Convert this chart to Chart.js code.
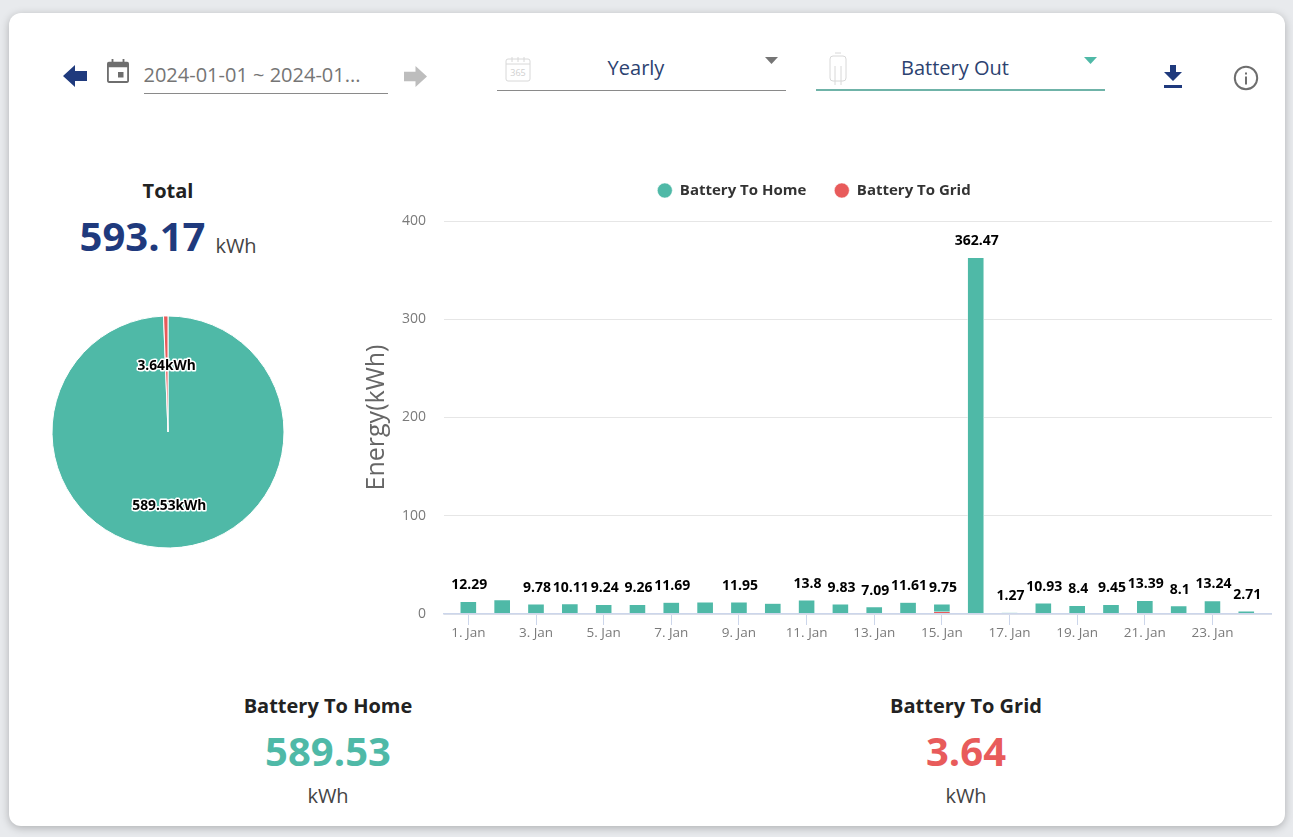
<!DOCTYPE html>
<html>
<head>
<meta charset="utf-8">
<script src="https://cdn.jsdelivr.net/npm/chart.js@4"></script>
<style>
  html, body { margin: 0; height: 100%; overflow: hidden; background: #e8eaed; font-family: "Open Sans", sans-serif; }
  #card { position: absolute; left: 9px; top: 13px; width: 1276px; height: 813px; background: #fff; border-radius: 12px; box-shadow: 0 2px 8px rgba(0,0,0,.25); }
  .t { position: absolute; white-space: nowrap; transform: translate(-50%, -50%); }
  .line { position: absolute; height: 1px; background: #8a8a8a; }
  svg.i { position: absolute; }
  #pieChart { position: absolute; left: 40px; top: 304px; }
  #barChart { position: absolute; left: 356px; top: 155px; }
</style>
</head>
<body>
<div id="card"></div>

<svg class="i" style="left:63px;top:64px" width="24" height="24" viewBox="0 0 24 24"><path d="M0 12 L12 1 V7 H24 V17 H12 V23 Z" fill="#1f3a7d"/></svg>
<svg class="i" style="left:107px;top:59px" width="22" height="24" viewBox="0 0 24 26"><path d="M5 0h2v3h10V0h2v3h3a2 2 0 0 1 2 2v19a2 2 0 0 1-2 2H2a2 2 0 0 1-2-2V5a2 2 0 0 1 2-2h3zM2 9v15h20V9zM12 14h6v6h-6z" fill="#6e6e6e" fill-rule="evenodd"/></svg>
<div class="t" style="left:252px;top:74px;font-size:20px;color:#757575">2024-01-01 ~ 2024-01...</div>
<div class="line" style="left:144px;top:93px;width:244px"></div>
<svg class="i" style="left:404px;top:65px" width="23" height="23" viewBox="0 0 24 24"><path d="M24 12 L12 1 V7 H0 V17 H12 V23 Z" fill="#bdbdbd"/></svg>

<svg class="i" style="left:505px;top:56px" width="26" height="26" viewBox="0 0 26 26" fill="none" stroke="#d8d8d8"><rect x="1" y="3" width="24" height="22" rx="2"/><path d="M1 8h24M7 1v5M13 1v5M19 1v5"/><text x="13" y="20" font-size="9" text-anchor="middle" fill="#d0d0d0" stroke="none" font-family="Open Sans">365</text></svg>
<div class="t" style="left:636px;top:67px;font-size:20px;color:#2c4270">Yearly</div>
<svg class="i" style="left:765px;top:57px" width="13" height="7"><path d="M0 0H13L6.5 7Z" fill="#757575"/></svg>
<div class="line" style="left:497px;top:90px;width:289px"></div>

<svg class="i" style="left:828px;top:52px" width="20" height="34" viewBox="0 0 20 34" fill="none" stroke="#d8d8d8"><rect x="2" y="4" width="16" height="25" rx="3"/><path d="M7 1h6M7 14v15M13 14v15M7 29v4M13 29v4"/></svg>
<div class="t" style="left:955px;top:67px;font-size:20px;color:#2c4270">Battery Out</div>
<svg class="i" style="left:1084px;top:57px" width="13" height="7"><path d="M0 0H13L6.5 7Z" fill="#4fb9a7"/></svg>
<div class="line" style="left:816px;top:89px;width:289px;height:2px;background:#6fb3a8"></div>

<svg class="i" style="left:1163px;top:65px" width="20" height="23" viewBox="0 0 20 23"><path d="M7 0h6v7h6l-9 9-9-9h6zM1 20h18v3H1z" fill="#1f3a7d"/></svg>
<svg class="i" style="left:1233px;top:65px" width="26" height="26" viewBox="0 0 26 26"><circle cx="13" cy="13" r="11.2" fill="none" stroke="#6e6e6e" stroke-width="2"/><rect x="12" y="11.5" width="2" height="8" fill="#6e6e6e"/><rect x="12" y="7.5" width="2" height="2" fill="#6e6e6e"/></svg>

<div class="t" style="left:168px;top:190px;font-size:20px;font-weight:700;color:#222">Total</div>
<div class="t" style="left:142.5px;top:235px;font-size:40px;font-weight:700;color:#1f3a7d">593.17</div>
<div class="t" style="left:236px;top:245px;font-size:20px;color:#444">kWh</div>

<canvas id="pieChart" width="256" height="256"></canvas>
<canvas id="barChart" width="916" height="500"></canvas>

<div class="t" style="left:328px;top:705px;font-size:20px;font-weight:700;color:#222">Battery To Home</div>
<div class="t" style="left:328px;top:750px;font-size:40px;font-weight:700;color:#4fb9a7">589.53</div>
<div class="t" style="left:328px;top:795px;font-size:20px;color:#444">kWh</div>
<div class="t" style="left:966px;top:705px;font-size:20px;font-weight:700;color:#222">Battery To Grid</div>
<div class="t" style="left:966px;top:750px;font-size:40px;font-weight:700;color:#e85b5b">3.64</div>
<div class="t" style="left:966px;top:795px;font-size:20px;color:#444">kWh</div>

<script>
  const seriesNames = ['Battery To Home', 'Battery To Grid'];
  const seriesColors = ['#4fb9a7', '#e85b5b'];
  const pieValues = [589.53, 3.64];

  const days = ['1. Jan', '2. Jan', '3. Jan', '4. Jan', '5. Jan', '6. Jan', '7. Jan', '8. Jan',
    '9. Jan', '10. Jan', '11. Jan', '12. Jan', '13. Jan', '14. Jan', '15. Jan', '16. Jan',
    '17. Jan', '18. Jan', '19. Jan', '20. Jan', '21. Jan', '22. Jan', '23. Jan', '24. Jan'];
  const toHome = [12.29, 14.2, 9.78, 10.11, 9.24, 9.26, 11.69, 12, 11.95, 10.61, 13.8, 9.83,
    7.09, 11.61, 7.6, 362.47, 1.27, 10.93, 8.4, 9.45, 13.39, 8.1, 13.24, 2.71];
  const toGrid = [0, 0, 0, 0, 0, 0, 0, 0, 0, 0, 0, 0, 0, 0, 2.15, 0, 0, 0, 0, 0, 0, 0, 0, 0];
  // the chart hides the labels that would collide
  const hiddenLabels = ['2. Jan', '8. Jan', '10. Jan'];

  const FONT = '"Open Sans", sans-serif';

  // Pie slice labels with a white halo
  const pieLabels = {
    id: 'pieLabels',
    afterDatasetsDraw(chart) {
      const ctx = chart.ctx;
      const arcs = chart.getDatasetMeta(0).data;
      ctx.save();
      ctx.font = '700 13.75px ' + FONT;
      ctx.textAlign = 'center';
      ctx.textBaseline = 'middle';
      ctx.lineJoin = 'round';
      arcs.forEach((arc, i) => {
        const mid = (arc.startAngle + arc.endAngle) / 2;
        const x = arc.x + Math.cos(mid) * 70;
        const y = arc.y + Math.sin(mid) * 70 + 4;
        const text = pieValues[i] + 'kWh';
        ctx.strokeStyle = '#fff';
        ctx.lineWidth = 3;
        ctx.strokeText(text, x, y);
        ctx.fillStyle = '#000';
        ctx.fillText(text, x, y);
      });
      ctx.restore();
    }
  };

  new Chart(document.getElementById('pieChart'), {
    type: 'pie',
    data: {
      labels: seriesNames,
      datasets: [{ data: pieValues, backgroundColor: seriesColors, borderColor: '#fff', borderWidth: 1 }]
    },
    options: {
      responsive: false,
      animation: false,
      radius: 116,
      plugins: { legend: { display: false }, tooltip: { enabled: false } }
    },
    plugins: [pieLabels]
  });

  // Stack totals above the bars
  const barLabels = {
    id: 'barLabels',
    afterDatasetsDraw(chart) {
      const ctx = chart.ctx;
      const x = chart.scales.x, y = chart.scales.y;
      ctx.save();
      ctx.font = '700 14px ' + FONT;
      ctx.fillStyle = '#000';
      ctx.textAlign = 'center';
      ctx.textBaseline = 'middle';
      days.forEach((d, i) => {
        if (hiddenLabels.includes(d)) return;
        const total = toHome[i] + toGrid[i];
        const text = String(+total.toFixed(2));
        ctx.fillText(text, x.getPixelForValue(i) + 1, y.getPixelForValue(total) - 16.5);
      });
      ctx.restore();
    }
  };

  // legend is taller than its text, cut it so the plot starts at the right height
  const legendHeight = {
    id: 'legendHeight',
    beforeLayout(chart) {
      if (chart.legend.fit.patched) return;
      const fit = chart.legend.fit;
      chart.legend.fit = function() {
        fit.call(this);
        this.height = 66;
      };
      chart.legend.fit.patched = true;
    }
  };

  const barStyle = { barThickness: 16, borderColor: '#fff', borderWidth: 0.5, borderSkipped: false };

  new Chart(document.getElementById('barChart'), {
    type: 'bar',
    data: {
      datasets: [
        { label: seriesNames[1], data: toGrid.map((v, i) => ({ x: i, y: v })), backgroundColor: seriesColors[1], ...barStyle },
        { label: seriesNames[0], data: toHome.map((v, i) => ({ x: i, y: v })), backgroundColor: seriesColors[0], ...barStyle }
      ]
    },
    options: {
      responsive: false,
      animation: false,
      layout: { padding: 0 },
      scales: {
        x: {
          type: 'linear',
          stacked: true,
          offset: false,
          min: -0.72,
          max: 23.76,
          afterBuildTicks(scale) {
            scale.ticks = days.map((d, i) => ({ value: i })).filter(t => t.value % 2 === 0);
          },
          ticks: {
            autoSkip: false,
            maxRotation: 0,
            color: '#7a7a7a',
            font: { family: FONT, size: 13.5 },
            padding: 0,
            callback: v => days[v]
          },
          grid: { offset: false, drawOnChartArea: false, drawTicks: true, tickLength: 11, color: '#ccd6eb' },
          border: { color: '#ccd6eb', width: 1.5, z: 1 },
          afterFit(scale) { scale.height = 41; }
        },
        y: {
          stacked: true,
          min: 0,
          max: 400,
          ticks: { stepSize: 100, color: '#7a7a7a', font: { family: FONT, size: 14 }, padding: 18 },
          grid: { color: '#e6e6e6', drawTicks: false },
          border: { display: false },
          title: { display: true, text: 'Energy(kWh)', color: '#666', font: { family: FONT, size: 25 }, padding: { top: 6, bottom: 0 } },
          afterFit(scale) { scale.width = 88; }
        }
      },
      plugins: {
        tooltip: { enabled: false },
        legend: {
          position: 'top',
          reverse: true,
          labels: {
            usePointStyle: true,
            pointStyle: 'circle',
            boxHeight: 10.6,
            padding: 28,
            color: '#333',
            font: { family: FONT, size: 15, weight: '700' }
          }
        }
      }
    },
    plugins: [barLabels, legendHeight]
  });
</script>
</body>
</html>
